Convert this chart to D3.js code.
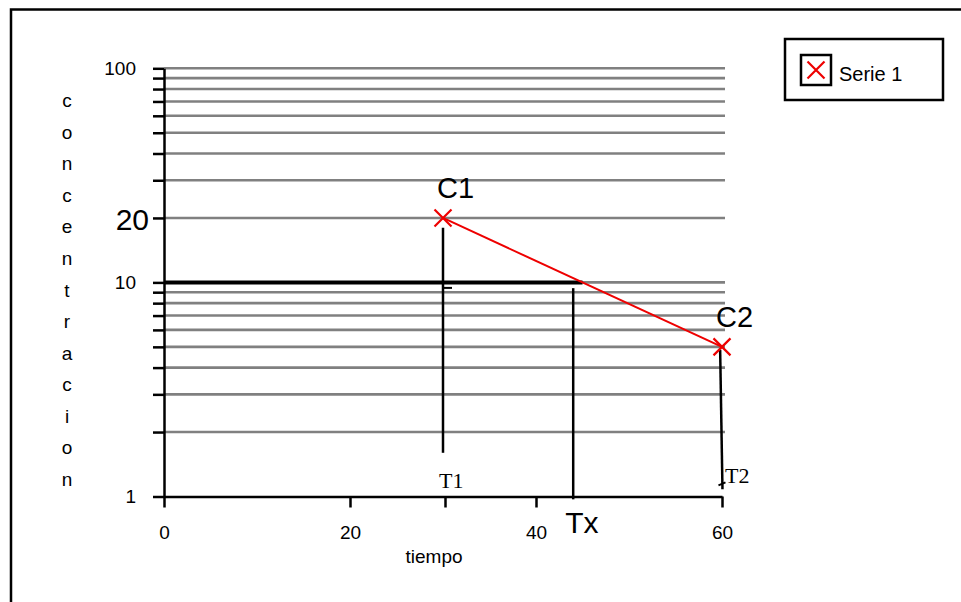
<!DOCTYPE html>
<html>
<head>
<meta charset="utf-8">
<script src="https://cdnjs.cloudflare.com/ajax/libs/d3/7.8.5/d3.min.js"></script>
<style>
  body { margin: 0; background: #fff; }
  svg { display: block; font-family: "Liberation Sans", Arial, sans-serif; }
</style>
</head>
<body>
<svg width="961" height="602"></svg>
<script>
// series
const seriesName = "Serie 1";
const tiempo = [30, 60];
const concentracion = [20, 5];
const pointLabels = ["C1", "C2"];

// axes
const gridValues = [2, 3, 4, 5, 6, 7, 8, 9, 10, 20, 30, 40, 50, 60, 70, 80, 90, 100];
const yTickValues = [1].concat(gridValues);
const yTickLabels = [1, 10, 100];
const xTickValues = [0, 20, 40, 60];
const yTitle = "concentracion";
const xTitle = "tiempo";

// hand drawn annotations
const cLimit = 10;
const txValue = 44;
const t1Line = [18, 1.6];
const txLine = [9.4, 0.97];
const t2Line = [[59.8, 4.85], [60.05, 1.08]];

const svg = d3.select("svg");

const x = d3.scaleLinear().domain([0, 60]).range([164, 722]);
const y = d3.scaleLog().domain([1, 100]).range([496.5, 68.3]);

//Frame
svg.append("path")
  .attr("d", "M11,602V9.5H961")
  .attr("fill", "none")
  .attr("stroke", "#000")
  .attr("stroke-width", 2.5);

//Gridlines
svg.append("g")
  .selectAll("line")
  .data(gridValues)
  .enter()
  .append("line")
  .attr("x1", x(0))
  .attr("x2", x(60) + 3)
  .attr("y1", (d) => y(d))
  .attr("y2", (d) => y(d))
  .attr("stroke", "#808080")
  .attr("stroke-width", 2.6);

//Define x, y axes
const yAxis = d3.axisLeft(y)
  .tickValues(yTickValues)
  .tickSize(11)
  .tickSizeOuter(0)
  .tickPadding(17)
  .tickFormat((d) => (yTickLabels.includes(d) ? d : ""));

const xAxis = d3.axisBottom(x)
  .tickValues(xTickValues)
  .tickSize(11)
  .tickSizeOuter(0)
  .tickPadding(18);

const gy = svg.append("g")
  .attr("transform", `translate(${x(0)},0)`)
  .call(yAxis);

const gx = svg.append("g")
  .attr("transform", `translate(0,${y(1)})`)
  .call(xAxis);

[gx, gy].forEach((g) => {
  g.selectAll("path, line").attr("stroke", "#000").attr("stroke-width", 2.5);
  g.selectAll("text")
    .attr("fill", "#000")
    .style("font-size", "19px")
    .style("font-family", "'Liberation Sans', Arial, sans-serif");
});

//Axis titles
svg.append("text")
  .attr("x", 434)
  .attr("y", 563)
  .attr("text-anchor", "middle")
  .style("font-size", "19px")
  .text(xTitle);

const letterY = d3.scaleLinear().domain([0, yTitle.length - 1]).range([101, 480]);
svg.append("g")
  .selectAll("text")
  .data(yTitle.split(""))
  .enter()
  .append("text")
  .attr("x", 67)
  .attr("y", (d, i) => letterY(i))
  .attr("dy", "0.32em")
  .attr("text-anchor", "middle")
  .style("font-size", "19px")
  .text((d) => d);

//Annotations: limit line and verticals
const tCross = d3.scaleLinear()
  .domain([Math.log10(concentracion[0]), Math.log10(concentracion[1])])
  .range(tiempo)(Math.log10(cLimit));

svg.append("line")
  .attr("x1", x(0))
  .attr("x2", x(tCross))
  .attr("y1", y(cLimit))
  .attr("y2", y(cLimit))
  .attr("stroke", "#000")
  .attr("stroke-width", 4);

const ink = (x1, y1, x2, y2, w) =>
  svg.append("line")
    .attr("x1", x1)
    .attr("y1", y1)
    .attr("x2", x2)
    .attr("y2", y2)
    .attr("stroke", "#000")
    .attr("stroke-width", w);

// T1
ink(x(tiempo[0]), y(t1Line[0]), x(tiempo[0]), y(t1Line[1]), 2.5);
ink(x(tiempo[0]), y(cLimit) + 5.5, x(tiempo[0]) + 9, y(cLimit) + 5.5, 2);
ink(x(tiempo[0]) + 2.5, y(1), x(tiempo[0]) + 2.5, y(1) + 11, 2.5);
// Tx
ink(x(txValue), y(txLine[0]), x(txValue), y(txLine[1]), 2.5);
// T2
ink(x(t2Line[0][0]), y(t2Line[0][1]), x(t2Line[1][0]), y(t2Line[1][1]), 2.5);
ink(x(t2Line[1][0]) - 4, y(t2Line[1][1]) - 4, x(t2Line[1][0]) + 3, y(t2Line[1][1]) - 7, 2);

//Series line and markers
const red = "#ee0000";
const points = tiempo.map((t, i) => ({ t: t, c: concentracion[i], label: pointLabels[i] }));

svg.append("path")
  .datum(points)
  .attr("fill", "none")
  .attr("stroke", red)
  .attr("stroke-width", 2)
  .attr("d", d3.line().x((d) => x(d.t)).y((d) => y(d.c)));

const cross = (sel, s) =>
  sel.append("path")
    .attr("d", `M${-s},${-s}L${s},${s}M${-s},${s}L${s},${-s}`)
    .attr("stroke", red)
    .attr("stroke-width", 2.2)
    .attr("fill", "none");

const marks = svg.append("g")
  .selectAll("g")
  .data(points)
  .enter()
  .append("g")
  .attr("transform", (d) => `translate(${x(d.t)},${y(d.c)})`);
cross(marks, 8.5);

//Big labels
svg.append("g")
  .selectAll("text")
  .data(points)
  .enter()
  .append("text")
  .attr("x", (d) => x(d.t) - 6)
  .attr("y", (d) => y(d.c) - 20)
  .style("font-size", "29px")
  .text((d) => d.label);

svg.append("text")
  .attr("x", 149)
  .attr("y", y(concentracion[0]) + 12)
  .attr("text-anchor", "end")
  .style("font-size", "30px")
  .text(concentracion[0]);

svg.append("text")
  .attr("x", x(txValue) - 8)
  .attr("y", 533)
  .style("font-size", "30px")
  .text("Tx");

svg.append("text")
  .attr("x", x(tiempo[0]) - 4)
  .attr("y", 488)
  .style("font-size", "22px")
  .style("font-family", "'Liberation Serif', 'Times New Roman', serif")
  .text("T1");

svg.append("text")
  .attr("x", x(tiempo[1]) + 3)
  .attr("y", 483)
  .style("font-size", "22px")
  .style("font-family", "'Liberation Serif', 'Times New Roman', serif")
  .text("T2");

//Legend
const legend = svg.append("g").attr("transform", "translate(785,39)");
legend.append("rect")
  .attr("width", 158)
  .attr("height", 61)
  .attr("fill", "#fff")
  .attr("stroke", "#000")
  .attr("stroke-width", 2.5);
legend.append("rect")
  .attr("x", 16)
  .attr("y", 16)
  .attr("width", 30)
  .attr("height", 30)
  .attr("fill", "#fff")
  .attr("stroke", "#000")
  .attr("stroke-width", 2.5);
const legendMark = legend.append("g").attr("transform", "translate(31,31)");
cross(legendMark, 8.5);
legend.append("text")
  .attr("x", 54)
  .attr("y", 42)
  .style("font-size", "20px")
  .text(seriesName);
</script>
</body>
</html>
